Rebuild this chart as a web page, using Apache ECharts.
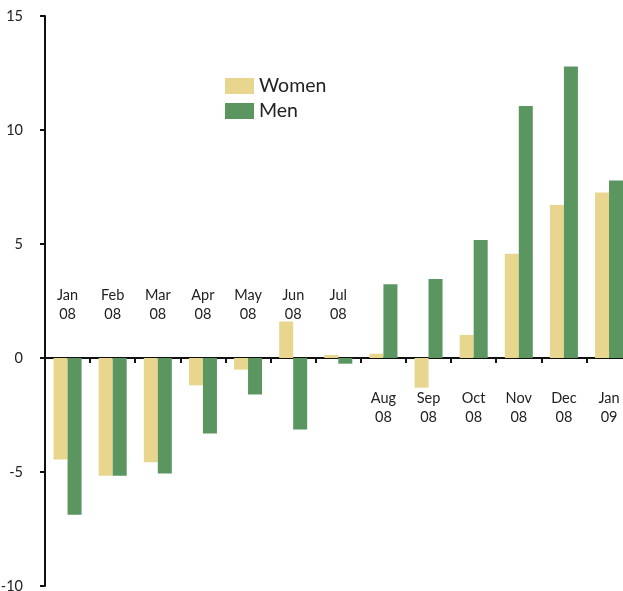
<!DOCTYPE html>
<html>
<head>
<meta charset="utf-8">
<script src="https://cdn.jsdelivr.net/npm/echarts@6/dist/echarts.min.js"></script>
<style>
  html, body { margin: 0; padding: 0; background: #fff; }
  #chart { width: 623px; height: 591px; }
</style>
</head>
<body>
<div id="chart"></div>
<script>
// 数据
var months = ['Jan\n08', 'Feb\n08', 'Mar\n08', 'Apr\n08', 'May\n08', 'Jun\n08', 'Jul\n08',
  'Aug\n08', 'Sep\n08', 'Oct\n08', 'Nov\n08', 'Dec\n08', 'Jan\n09'];
var women = [-4.45, -5.16, -4.57, -1.2, -0.51, 1.6, 0.13, 0.19, -1.3, 1.01, 4.57, 6.71, 7.26];
var men = [-6.87, -5.16, -5.07, -3.31, -1.6, -3.14, -0.25, 3.24, 3.47, 5.18, 11.05, 12.78, 7.78];
var yTicks = [-10, -5, 0, 5, 10, 15];
// 前7个月的标签放在零线上方
var splitIndex = 7;

var font = 'Lato, "Open Sans", sans-serif';
var gridTop = 16, gridHeight = 570;
var yMin = yTicks[0], yMax = yTicks[yTicks.length - 1];
// 零线到网格上下边的距离，用于把x轴放到零线上
var zeroFromTop = gridHeight * yMax / (yMax - yMin);
var zeroFromBottom = gridHeight - zeroFromTop;

var chart = echarts.init(document.getElementById('chart'));

var labelStyle = {
  fontFamily: font,
  fontSize: 14.5,
  color: '#222',
  lineHeight: 19
};

chart.setOption({
  animation: false,
  grid: { left: 45, top: gridTop, width: 586.6, height: gridHeight, outerBoundsMode: 'none' },
  legend: {
    orient: 'vertical',
    left: 220,
    top: 71,
    itemWidth: 29,
    itemHeight: 16,
    itemGap: 5,
    icon: 'rect',
    textStyle: { fontFamily: font, fontSize: 19.5, color: '#222' },
    data: ['Women', 'Men']
  },
  xAxis: [{
    type: 'category',
    data: months,
    position: 'bottom',
    offset: -zeroFromBottom,
    axisLine: { onZero: false, lineStyle: { color: '#111', width: 2 } },
    axisTick: { show: true, length: 5, lineStyle: { color: '#111', width: 2 } },
    axisLabel: Object.assign({}, labelStyle, {
      margin: 31,
      interval: 0,
      formatter: function (v, i) { return i >= splitIndex ? v : ''; }
    })
  }, {
    type: 'category',
    data: months,
    position: 'top',
    offset: -zeroFromTop,
    axisLine: { show: false, onZero: false },
    axisTick: { show: false },
    axisLabel: Object.assign({}, labelStyle, {
      margin: 34,
      interval: 0,
      formatter: function (v, i) { return i < splitIndex ? v : ''; }
    })
  }],
  yAxis: {
    type: 'value',
    min: yMin,
    max: yMax,
    interval: 5,
    splitLine: { show: false },
    axisLine: { show: true, lineStyle: { color: '#111', width: 2 } },
    axisTick: { show: true, length: 5, lineStyle: { color: '#111', width: 2 } },
    axisLabel: { fontFamily: font, fontSize: 14.5, color: '#222', margin: 22 }
  },
  series: [{
    name: 'Women',
    type: 'bar',
    data: women,
    barWidth: 14,
    barGap: '0%',
    itemStyle: { color: '#e8d68e' }
  }, {
    name: 'Men',
    type: 'bar',
    data: men,
    barWidth: 14,
    itemStyle: { color: '#5b9560' }
  }]
});
</script>
</body>
</html>
